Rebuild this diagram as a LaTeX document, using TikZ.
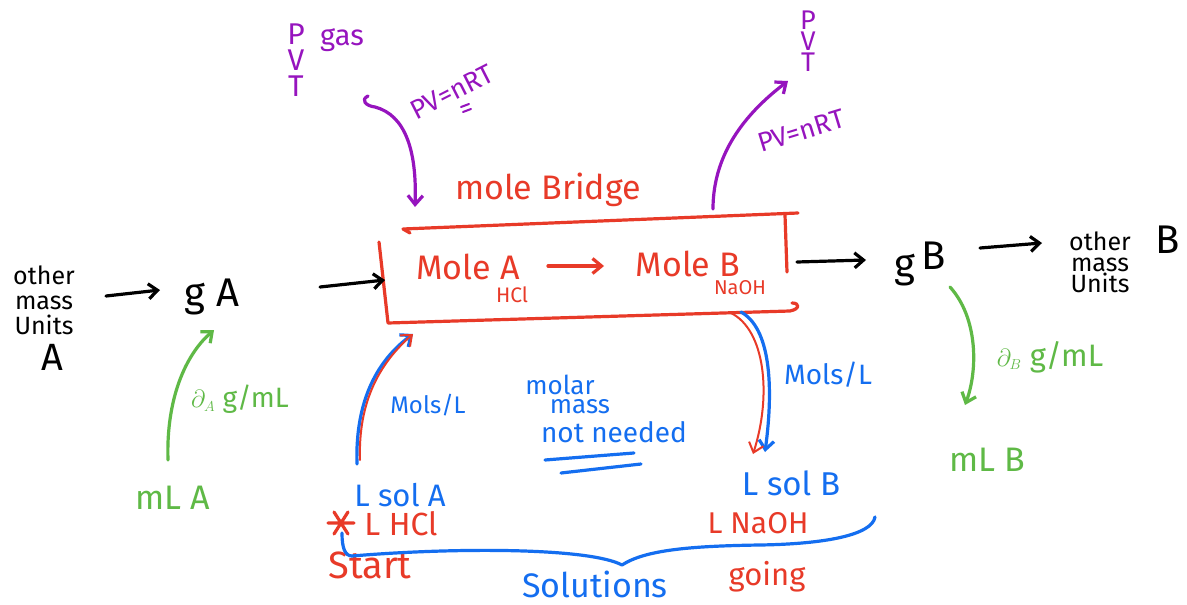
\documentclass[tikz,border=0pt]{standalone}
\usepackage{fontspec}
\setmainfont{Fira Sans}
\usetikzlibrary{arrows.meta,calc}
\definecolor{inkred}{RGB}{232,58,40}
\definecolor{inkblue}{RGB}{20,110,240}
\definecolor{inkgreen}{RGB}{95,185,70}
\definecolor{inkpurple}{RGB}{150,20,190}
\newcommand{\fs}[1]{\fontsize{#1}{#1}\selectfont}
\tikzset{
  pen/.style={line width=3.2pt, line cap=round, line join=round},
  barb/.style={pen, -{Straight Barb[length=9pt,width=15pt]}},
  lbl/.style={inner sep=0pt},
}
\begin{document}
\begin{tikzpicture}[x=1pt,y=-1pt]
\fill[white] (0,0) rectangle (1187,605);
\useasboundingbox (0,0) rectangle (1187,605);

% ---- mass side A ----
\node[lbl, align=center, font=\fontsize{25}{25}\selectfont] (omA) at (44,300) {other\\mass\\Units};
\node[lbl, font=\fs{38}] (capA) at (52,357) {A};
\node[lbl, font=\fs{40}] (gA) at (212,297) {g A};
\coordinate (omAe) at (106,296);
\coordinate (gAw) at (160,290);
\draw[barb] (omAe) -- (gAw);

% ---- mass side B ----
\node[lbl, font=\fs{40}] (gB) at (920,264) {g\hspace{6pt}\raisebox{8pt}{B}};
\node[lbl, align=center, font=\fontsize{25}{21}\selectfont] (omB) at (1100,262) {other\\mass\\Units};
\node[lbl, font=\fs{40}] (capB) at (1168,240) {B};
\coordinate (gBe) at (980,248);
\coordinate (omBw) at (1042,243);
\draw[barb] (gBe) -- (omBw);

% ---- the mole bridge box ----
\begin{scope}[inkred, pen]
  \draw (410,233) -- (403,229) -- (798,213);
  \draw (785,215) -- (787,272);
  \draw (379,242) -- (388,323) -- (790,311) .. controls (800,309) and (800,303) .. (792,303);
\end{scope}
\coordinate (boxW) at (385,280);
\coordinate (boxE) at (797,262);
\coordinate (gAe) at (320,287);
\coordinate (gBw) at (866,260);
\draw[barb] (gAe) -- (boxW);
\draw[barb] (boxE) -- (gBw);

\node[lbl, inkred, font=\fs{34}] (bridge) at (548,190) {mole Bridge};
\node[lbl, inkred, font=\fs{34}] (moleA) at (468,267) {Mole A};
\node[lbl, inkred, font=\fs{21}] (hcl) at (512,295) {HCl};
\node[lbl, inkred, font=\fs{34}] (moleB) at (688,264) {Mole B};
\node[lbl, inkred, font=\fs{20}] (naoh) at (740,288) {NaOH};
\coordinate (mAout) at (548,266);
\coordinate (mBin) at (604,266);
\draw[barb, inkred] (mAout) -- (mBin);

% ---- gas routes ----
\node[lbl, inkpurple, align=center, font=\fontsize{30}{26}\selectfont] (pvtL) at (296,60) {P\\V\\T};
\node[lbl, inkpurple, font=\fs{29}] (gas) at (342,40) {gas};
\node[lbl, inkpurple, rotate=27, font=\fs{27}] (idealL) at (452,92) {PV=nRT};
\draw[inkpurple, line width=2pt, line cap=round] (461,107) -- (469,104) (463,112) -- (471,109);
\coordinate (hookL) at (368,96);
\coordinate (bridgeN) at (415,207);
\draw[barb, inkpurple] (hookL) .. controls (360,100) and (366,106) .. (375,107)
  .. controls (405,115) and (417,150) .. (bridgeN);

\node[lbl, inkpurple, align=center, font=\fontsize{27}{21}\selectfont] (pvtR) at (808,41) {P\\V\\T};
\node[lbl, inkpurple, rotate=17, font=\fs{27}] (idealR) at (801,131) {PV=nRT};
\coordinate (bridgeTop) at (713,209);
\coordinate (pvtRin) at (788,81);
\draw[barb, inkpurple] (bridgeTop) .. controls (713,150) and (750,110) .. (pvtRin);

% ---- density routes ----
\node[lbl, inkgreen, font=\fs{34}] (mLA) at (173,498) {mL A};
\coordinate (mLAn) at (168,460);
\coordinate (gAs) at (214,330);
\draw[barb, inkgreen] (mLAn) .. controls (166,400) and (185,355) .. (gAs);
\node[lbl, inkgreen, font=\fs{28}] (dA) at (240,399) {$\partial_{\scriptscriptstyle A}$ g/mL};

\node[lbl, inkgreen, font=\fs{34}] (mLB) at (987,460) {mL B};
\coordinate (gBs) at (950,287);
\coordinate (mLBn) at (965,405);
\draw[barb, inkgreen] (gBs) .. controls (978,318) and (978,370) .. (mLBn);
\node[lbl, inkgreen, font=\fs{31}] (dB) at (1050,357) {$\partial_{\scriptscriptstyle B}$ g/mL};

% ---- solution routes ----
\node[lbl, inkblue, font=\fs{31}] (solA) at (400,495) {L sol A};
\node[lbl, inkred, font=\fs{32}] (lhcl) at (401,524) {L HCl};
\coordinate (star) at (341,523);
\draw[pen, inkred] ($(star)+(-13,0)$) -- ($(star)+(13,0)$)
  ($(star)+(-7,-11)$) -- ($(star)+(7,11)$) ($(star)+(7,-11)$) -- ($(star)+(-7,11)$);
\node[lbl, inkred, font=\fs{38}] (start) at (370,565) {Start};
\coordinate (solAn) at (357,464);
\coordinate (boxSW) at (413,334);
\draw[barb, inkblue] (solAn) .. controls (355,400) and (378,360) .. (boxSW);
\draw[barb, inkred, line width=2pt] ($(solAn)+(3,-4)$) .. controls (358,400) and (381,362) .. (boxSW);
\node[lbl, inkblue, font=\fs{24}] (molsA) at (428,405) {Mols/L};

\node[lbl, inkblue, font=\fs{33}] (solB) at (791,483) {L sol B};
\node[lbl, inkred, font=\fs{30}] (lnaoh) at (758,523) {L NaOH};
\node[lbl, inkred, font=\fs{31}] (going) at (767,577) {going};
\coordinate (boxSE) at (741,312);
\coordinate (solBn) at (765,452);
\draw[barb, inkblue] (boxSE) .. controls (770,328) and (774,385) .. (solBn);
\draw[barb, inkred, line width=2pt] ($(boxSE)+(-10,1)$) .. controls (765,330) and (772,395) .. ($(solBn)+(-12,2)$);
\node[lbl, inkblue, font=\fs{28}] (molsB) at (828,375) {Mols/L};

\node[lbl, inkblue, font=\fs{26}] (molar) at (560,385) {molar};
\node[lbl, inkblue, font=\fs{26}] (mass) at (580,407) {mass};
\node[lbl, inkblue, font=\fs{28}] (notneeded) at (614,432) {not needed};
\draw[pen, inkblue] (545,460) -- (634,453);
\draw[pen, inkblue] (561,473) -- (641,464);

% brace grouping the two solutions
\coordinate (braceL) at (352,556);
\coordinate (braceM) at (622,565);
\coordinate (braceR) at (875,517);
\draw[pen, inkblue] ($(star)+(1,10)$) .. controls (342,548) and (345,556) .. (braceL);
\draw[pen, inkblue] (braceL) .. controls (460,547) and (590,548) .. (braceM)
  .. controls (645,550) and (690,546) .. (760,545) .. controls (825,544) and (872,535) .. (braceR);
\node[lbl, inkblue, font=\fs{34}] (solutions) at (595,584) {Solutions};
\end{tikzpicture}
\end{document}
